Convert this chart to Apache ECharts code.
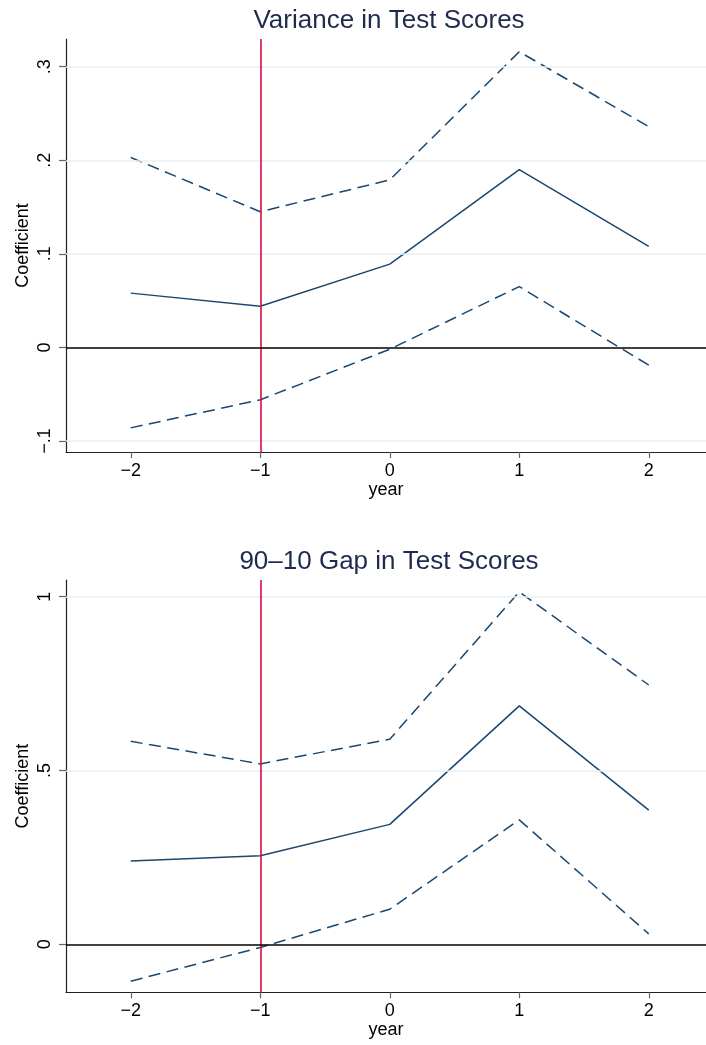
<!DOCTYPE html>
<html><head><meta charset="utf-8">
<script src="https://cdn.jsdelivr.net/npm/echarts@6/dist/echarts.min.js"></script>
<style>html,body{margin:0;padding:0;background:#fff}#c{width:706px;height:1045px}</style>
</head><body><div id="c"></div>
<script>
// ---- data ----
const years = [-2, -1, 0, 1, 2];
const xTickValues = [-2, -1, 0, 1, 2];
const xTickLabels = ['\u22122', '\u22121', '0', '1', '2'];
const xMin = -2.5, xMax = 2.442;

const varPoint = [0.058, 0.044, 0.089, 0.190, 0.108];
const varUpper = [0.203, 0.145, 0.179, 0.316, 0.236];
const varLower = [-0.086, -0.056, -0.002, 0.065, -0.019];
const varYTickValues = [-0.1, 0, 0.1, 0.2, 0.3];
const varYTickLabels = ['\u2212.1', '0', '.1', '.2', '.3'];

const gapPoint = [0.240, 0.255, 0.345, 0.686, 0.386];
const gapUpper = [0.584, 0.519, 0.590, 1.014, 0.746];
const gapLower = [-0.106, -0.009, 0.101, 0.358, 0.030];
const gapYTickValues = [0, 0.5, 1];
const gapYTickLabels = ['0', '.5', '1'];

const titles = ['Variance in Test Scores', '90\u201310 Gap in Test Scores'];
const xName = 'year';
const yName = 'Coefficient';
const eventYear = -1;

// ---- styling ----
const FONT = 'Liberation Sans, Arial, Helvetica, sans-serif';
const NAVY = '#1a476f';
const RED = '#d5113b';
const GRIDC = '#e9f1f3';

function lbl(vals, labels, v) {
  for (let i = 0; i < vals.length; i++) if (Math.abs(vals[i] - v) < 1e-9) return labels[i];
  return '';
}
function pairs(ys) { return years.map((x, i) => [x, ys[i]]); }

const panels = [
  {point: varPoint, upper: varUpper, lower: varLower, yv: varYTickValues, yl: varYTickLabels,
   min: -0.1118, max: 0.3296, top: 39, height: 413, titleY: 20.5},
  {point: gapPoint, upper: gapUpper, lower: gapLower, yv: gapYTickValues, yl: gapYTickLabels,
   min: -0.138, max: 1.048, top: 580, height: 412.3, titleY: 561.5}
];

const grid = [], xAxis = [], yAxis = [], series = [], graphic = [];
panels.forEach((p, i) => {
  grid.push({left: 66, top: p.top, right: 0, height: p.height});
  xAxis.push({
    gridIndex: i, type: 'value', min: xMin, max: xMax,
    axisLine: {show: true, onZero: false, lineStyle: {color: '#222', width: 1.2}},
    axisTick: {show: true, customValues: xTickValues, length: 6, lineStyle: {color: '#666', width: 1.2}},
    axisLabel: {customValues: xTickValues, formatter: v => lbl(xTickValues, xTickLabels, v),
      margin: 10, fontSize: 18, color: '#000', fontFamily: FONT},
    splitLine: {show: false},
    name: xName, nameLocation: 'middle', nameGap: 28,
    nameTextStyle: {fontSize: 18, color: '#000', fontFamily: FONT}
  });
  yAxis.push({
    gridIndex: i, type: 'value', min: p.min, max: p.max,
    axisLine: {show: true, onZero: false, lineStyle: {color: '#222', width: 1.2}},
    axisTick: {show: true, customValues: p.yv, length: 7, lineStyle: {color: '#666', width: 1.2}},
    axisLabel: {customValues: p.yv, formatter: v => lbl(p.yv, p.yl, v), rotate: 90,
      margin: 12, fontSize: 18, color: '#000', fontFamily: FONT},
    splitLine: {show: false}
  });
  const ml = (data, color, width, z) => ({
    type: 'line', xAxisIndex: i, yAxisIndex: i, data: [], z: z, silent: true,
    markLine: {symbol: ['none', 'none'], silent: true, animation: false, label: {show: false},
      lineStyle: {type: 'solid', color: color, width: width}, emphasis: {disabled: true}, data: data}
  });
  series.push(ml(p.yv.filter(v => v !== 0).map(v => ({yAxis: v})), GRIDC, 1.5, 1));
  series.push(ml([{xAxis: eventYear}], RED, 1.6, 2));
  series.push(ml([{yAxis: 0}], '#000', 1.5, 2));
  const ln = (ys, dashed) => ({
    type: 'line', xAxisIndex: i, yAxisIndex: i, data: pairs(ys), z: 3,
    showSymbol: false, symbol: 'none', silent: true, animation: false,
    lineStyle: {color: NAVY, width: 1.5, type: dashed ? [12, 6.5] : 'solid'}
  });
  series.push(ln(p.upper, true));
  series.push(ln(p.point, false));
  series.push(ln(p.lower, true));
  graphic.push({type: 'text', x: 389, y: p.titleY,
    style: {text: titles[i], align: 'center', verticalAlign: 'middle', fontSize: 26,
      fontFamily: FONT, fill: '#1e2b4d'}});
  graphic.push({type: 'text', x: 23, y: p.top + p.height / 2, rotation: Math.PI / 2,
    style: {text: yName, align: 'center', verticalAlign: 'middle', fontSize: 18,
      fontFamily: FONT, fill: '#000'}});
});

const chart = echarts.init(document.getElementById('c'), null, {renderer: 'canvas'});
chart.setOption({animation: false, backgroundColor: '#fff', grid, xAxis, yAxis, series, graphic});
</script>
</body></html>
